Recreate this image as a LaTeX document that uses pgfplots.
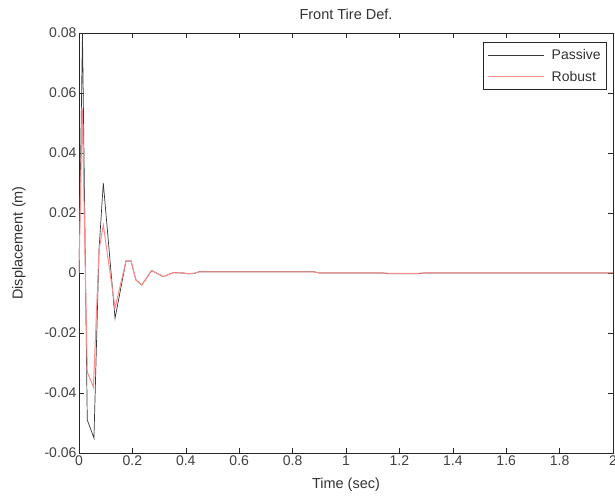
\documentclass[border=0pt]{standalone}
\usepackage{pgfplots}
\pgfplotsset{compat=1.18}
\usepackage{fontspec}
\setmainfont{Liberation Sans}
\definecolor{passivec}{RGB}{55,55,55}
\definecolor{robustc}{RGB}{255,140,140}
\begin{document}
\begin{tikzpicture}[x=1pt,y=1pt]
\begin{axis}[
  at={(0,0)}, anchor=south west,
  scale only axis, width=534pt, height=420pt,
  xmin=0, xmax=2, ymin=-0.06, ymax=0.08,
  scaled x ticks=false, scaled y ticks=false,
  xtick={0,0.2,...,2.01},
  xticklabels={0,0.2,0.4,0.6,0.8,1,1.2,1.4,1.6,1.8,2},
  ytick={-0.06,-0.04,-0.02,0,0.02,0.04,0.06,0.08},
  yticklabels={-0.06,-0.04,-0.02,0,0.02,0.04,0.06,0.08},
  tick align=inside, major tick length=5pt,
  xtick pos=both, ytick pos=both,
  axis line style={draw=black!85, line width=0.8pt},
  tick style={draw=black!85, line width=0.6pt},
  tick label style={font=\fontsize{14}{16}\selectfont, text=black!75},
  xticklabel style={yshift=1pt},
  yticklabel style={xshift=1pt},
  /pgf/number format/assume math mode=true,
  xlabel={Time (sec)}, ylabel={Displacement (m)},
  label style={font=\fontsize{14.5}{16}\selectfont, text=black!80},
  xlabel style={yshift=-6pt},
  ylabel style={yshift=12pt},
  title={Front Tire Def.},
  title style={font=\fontsize{14.5}{16}\selectfont, text=black!80, yshift=4pt},
  legend style={at={(1,1)}, anchor=north east, xshift=-6pt, yshift=-9pt,
    draw=black!85, line width=0.6pt, font=\fontsize{14}{16}\selectfont,
    text=black!80, inner xsep=4pt, inner ysep=5pt, row sep=6pt,
    cells={anchor=west}},
  legend image code/.code={\draw[#1] (0pt,0pt) -- (56pt,0pt); \path (61pt,0pt);},
]
\addplot[passivec, line width=0.7pt] coordinates {
(0,0) (0.013,0.080) (0.031,-0.049) (0.056,-0.055) (0.075,0.0077)
(0.091,0.030) (0.135,-0.0151) (0.176,0.004) (0.195,0.004) (0.213,-0.0023)
(0.235,-0.004) (0.272,0.0008) (0.316,-0.0012) (0.352,0.0001) (0.39,0.0)
(0.41,-0.0003) (0.43,-0.0002) (0.45,0.0004) (0.88,0.0004) (0.90,0.0)
(1.14,0.0) (1.16,-0.0003) (1.27,-0.0003) (1.29,0.0) (2.0,0.0)
};
\addlegendentry{Passive}
\addplot[robustc, line width=1.0pt] coordinates {
(0,0) (0.012,0.055) (0.031,-0.033) (0.054,-0.038) (0.075,0.0077)
(0.091,0.016) (0.135,-0.0117) (0.176,0.004) (0.195,0.004) (0.213,-0.0023)
(0.235,-0.004) (0.272,0.0008) (0.316,-0.0012) (0.352,0.0001) (0.39,0.0)
(0.41,-0.0002) (0.43,-0.0001) (0.45,0.0004) (0.88,0.0004) (0.90,0.0)
(1.14,0.0) (1.16,-0.0001) (1.27,-0.0001) (1.29,0.0) (2.0,0.0)
};
\addlegendentry{Robust}
\end{axis}
\pgfresetboundingbox
\path[use as bounding box] (-79pt,-50pt) rectangle (536pt,453pt);
\end{tikzpicture}
\end{document}
